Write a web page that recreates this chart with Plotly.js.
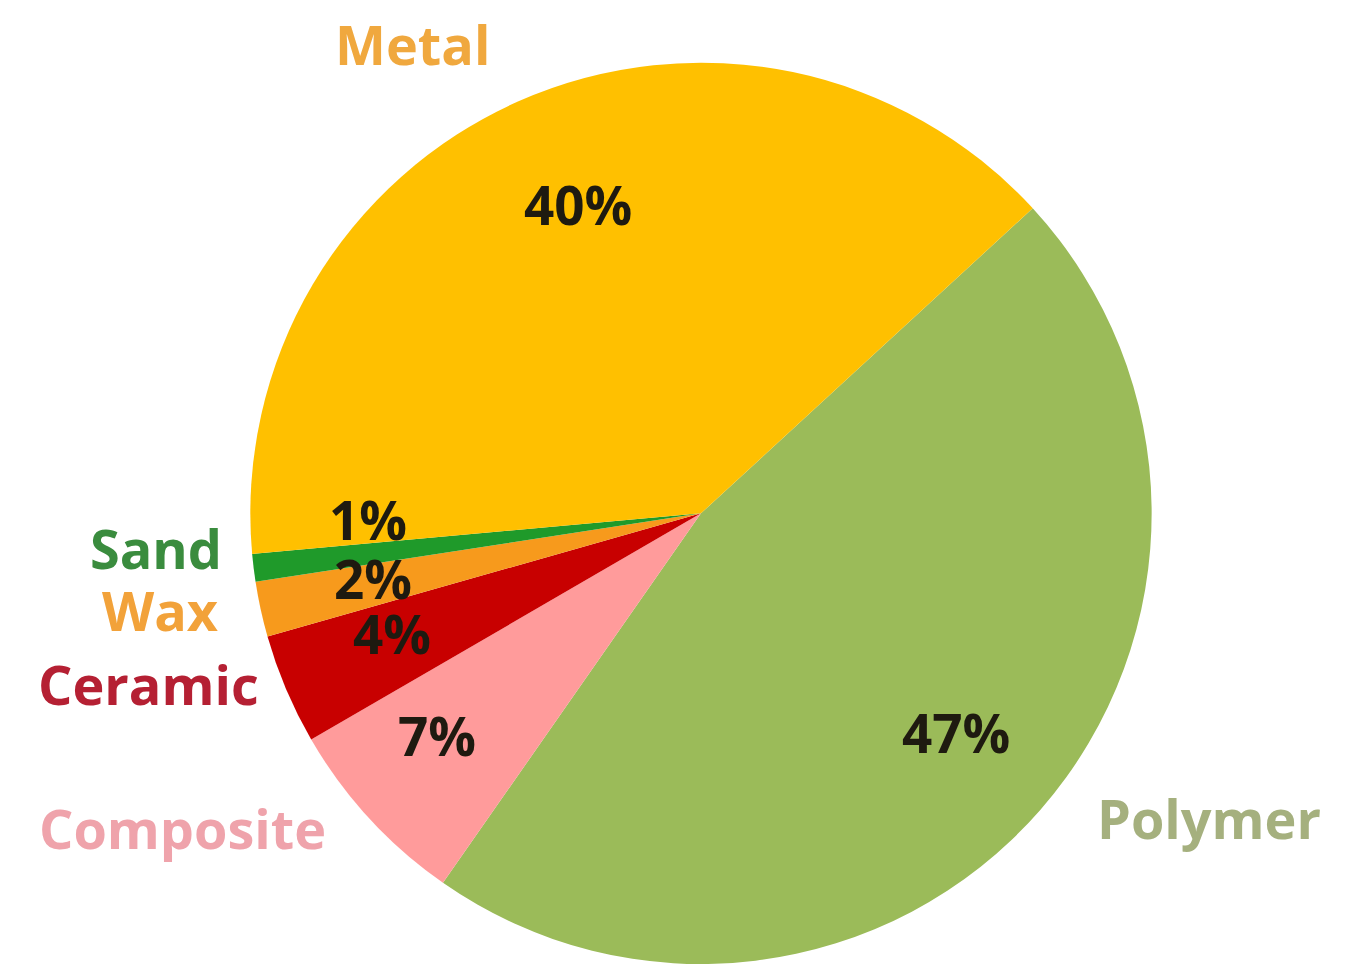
<!DOCTYPE html>
<html>
<head>
<meta charset="utf-8">
<script src="https://cdn.plot.ly/plotly-3.0.1.min.js"></script>
<style>html,body{margin:0;padding:0;background:#fff;}#chart{width:1356px;height:964px;}</style>
</head>
<body>
<div id="chart"></div>
<script>
// ---- data ----
const categories = ["Polymer", "Composite", "Ceramic", "Wax", "Sand", "Metal"];
const shares = [47, 7, 4, 2, 1, 40];
const shareLabels = ["47%", "7%", "4%", "2%", "1%", "40%"];

// ---- styles ----
const sliceColors = ["#9BBB59", "#FF9B9B", "#C80000", "#F79A1C", "#1F9A2A", "#FFC000"];
const labelColors = ["#A5B07E", "#EFA3AB", "#B52033", "#F2A23A", "#3A8C3E", "#F0A83E"];
// label positions in pixels (centre of text)
const labelPx = [[1209, 818], [182, 828], [148, 684], [160, 610], [156, 548], [412, 44]];
const pctShift = [[4, 0], [-18, -4], [-2, -10], [-2, -6], [-2, -34], [12, -4]];

const W = 1356, H = 964;
const domX = [0.1829, 0.8510], domY = [0, 0.935];
const rotation = 47.4;
const cx = (domX[0] + domX[1]) / 2 * W;
const R = Math.min((domX[1] - domX[0]) * W, (domY[1] - domY[0]) * H) / 2;
const cy = H - ((domY[0] + domY[1]) / 2 * H);

const total = shares.reduce((a, b) => a + b, 0);
const annotations = [];
let ang = rotation;
shares.forEach((v, i) => {
  const span = v / total * 360;
  const mid = (ang + span / 2) * Math.PI / 180;
  ang += span;
  const r = 0.74 * R;
  const px = cx + r * Math.sin(mid);
  const py = cy - r * Math.cos(mid);
  annotations.push({
    text: shareLabels[i], x: px / W, y: 1 - py / H, xref: "paper", yref: "paper",
    showarrow: false, xanchor: "center", yanchor: "middle",
    xshift: pctShift[i][0], yshift: -pctShift[i][1],
    font: {family: "Open Sans", size: 53, weight: 700, color: "#1E1A10"}
  });
  annotations.push({
    text: categories[i], x: labelPx[i][0] / W, y: 1 - labelPx[i][1] / H,
    xref: "paper", yref: "paper", showarrow: false, xanchor: "center", yanchor: "middle",
    font: {family: "Open Sans", size: 54, weight: 700, color: labelColors[i]}
  });
});

const trace = {
  type: "pie",
  labels: categories,
  values: shares,
  sort: false,
  direction: "clockwise",
  rotation: rotation,
  textinfo: "none",
  hoverinfo: "label+text",
  text: shareLabels,
  marker: {colors: sliceColors, line: {width: 0}},
  domain: {x: domX, y: domY},
  showlegend: false
};

Plotly.newPlot("chart", [trace], {
  width: W, height: H,
  margin: {l: 0, r: 0, t: 0, b: 0},
  paper_bgcolor: "#ffffff",
  showlegend: false,
  annotations: annotations
}, {displayModeBar: false, staticPlot: true});
</script>
</body>
</html>
